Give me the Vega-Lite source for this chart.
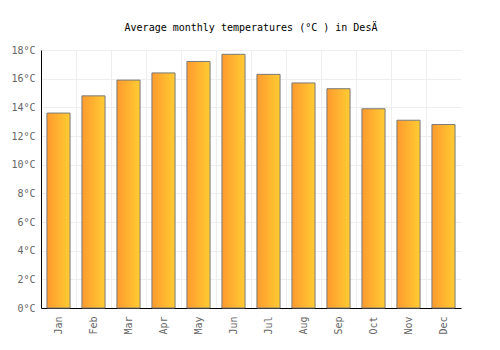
{
  "$schema": "https://vega.github.io/schema/vega-lite/v6.json",
  "width": 420,
  "height": 258,
  "autosize": "none",
  "padding": {"left": 41, "top": 50, "right": 39, "bottom": 42},
  "background": "white",
  "title": {
    "text": "Average monthly temperatures (°C ) in DesÄ",
    "font": "DejaVu Sans Mono",
    "fontSize": 10,
    "fontWeight": "normal",
    "color": "#000000",
    "offset": 12,
    "anchor": "middle"
  },
  "data": {
    "values": [
      {"month": "Jan", "temp": 13.6},
      {"month": "Feb", "temp": 14.8},
      {"month": "Mar", "temp": 15.9},
      {"month": "Apr", "temp": 16.4},
      {"month": "May", "temp": 17.2},
      {"month": "Jun", "temp": 17.7},
      {"month": "Jul", "temp": 16.3},
      {"month": "Aug", "temp": 15.7},
      {"month": "Sep", "temp": 15.3},
      {"month": "Oct", "temp": 13.9},
      {"month": "Nov", "temp": 13.1},
      {"month": "Dec", "temp": 12.8}
    ]
  },
  "mark": {
    "type": "bar",
    "width": {"band": 0.66},
    "stroke": "#7a7a7a",
    "strokeWidth": 1,
    "color": {
      "gradient": "linear",
      "x1": 0, "y1": 0, "x2": 1, "y2": 0,
      "stops": [
        {"offset": 0, "color": "#ff9a2e"},
        {"offset": 1, "color": "#ffcc33"}
      ]
    }
  },
  "encoding": {
    "x": {
      "field": "month",
      "type": "nominal",
      "sort": null,
      "scale": {"paddingInner": 0, "paddingOuter": 0},
      "axis": {
        "title": null,
        "labelAngle": -90,
        "labelFont": "DejaVu Sans Mono",
        "labelFontSize": 10,
        "labelColor": "#666666",
        "labelPadding": 8,
        "ticks": false,
        "domainColor": "#000000",
        "grid": true,
        "gridColor": "#eeeeee",
        "bandPosition": 0
      }
    },
    "y": {
      "field": "temp",
      "type": "quantitative",
      "scale": {"domain": [0, 18]},
      "axis": {
        "title": null,
        "values": [0, 2, 4, 6, 8, 10, 12, 14, 16, 18],
        "labelExpr": "datum.value + '°C'",
        "labelFont": "DejaVu Sans Mono",
        "labelFontSize": 10,
        "labelColor": "#666666",
        "labelPadding": 6,
        "ticks": false,
        "domainColor": "#000000",
        "gridColor": "#eeeeee"
      }
    }
  },
  "config": {
    "view": {"stroke": null}
  }
}
